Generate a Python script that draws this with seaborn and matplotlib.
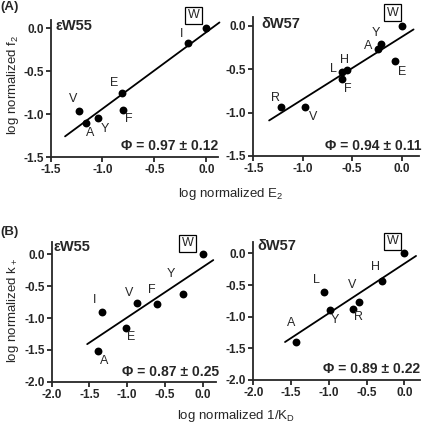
import numpy as np
import pandas as pd
import matplotlib
matplotlib.use("Agg")
import matplotlib.pyplot as plt
import seaborn as sns

# ---- data ----
# (A) left: eW55, log normalized E2 vs log normalized f2
a1_names = ["W", "I", "E", "F", "V", "A", "Y"]
a1_x = [0.0, -0.18, -0.81, -0.80, -1.23, -1.16, -1.04]
a1_y = [0.0, -0.17, -0.75, -0.95, -0.97, -1.10, -1.05]
a1_line_x = [-1.36, 0.125]
a1_line_y = [-1.26, 0.065]

# (A) right: dW57
a2_names = ["W", "Y", "A", "E", "H", "L", "F", "R", "V"]
a2_x = [0.0, -0.21, -0.24, -0.07, -0.55, -0.60, -0.60, -1.22, -0.98]
a2_y = [0.0, -0.21, -0.26, -0.40, -0.51, -0.53, -0.61, -0.94, -0.93]
a2_line_x = [-1.34, 0.12]
a2_line_y = [-1.09, -0.04]

# (B) left: eW55, log normalized 1/KD vs log normalized k+
b1_names = ["W", "Y", "F", "V", "I", "E", "A"]
b1_x = [0.0, -0.26, -0.61, -0.87, -1.34, -1.02, -1.39]
b1_y = [0.0, -0.63, -0.78, -0.77, -0.90, -1.15, -1.52]
b1_line_x = [-1.53, 0.14]
b1_line_y = [-1.41, -0.09]

# (B) right: dW57
b2_names = ["W", "H", "L", "V", "R", "Y", "A"]
b2_x = [0.0, -0.29, -1.06, -0.60, -0.68, -0.98, -1.43]
b2_y = [0.0, -0.44, -0.61, -0.77, -0.88, -0.90, -1.40]
b2_line_x = [-1.58, 0.155]
b2_line_y = [-1.40, -0.04]

phi_texts = ["\u03a6 = 0.97 \u00b1 0.12", "\u03a6 = 0.94 \u00b1 0.11",
             "\u03a6 = 0.87 \u00b1 0.25", "\u03a6 = 0.89 \u00b1 0.22"]
panel_names = ["\u03b5W55", "\u03b4W57", "\u03b5W55", "\u03b4W57"]

# label offsets (pixels) from each point
a1_off = {"W": (-13, 13), "I": (-6, 9), "E": (-8, 10), "F": (6, -9),
          "V": (-5, 12), "A": (4, -10), "Y": (7, -11)}
a2_off = {"W": (-9, 13), "Y": (-5, 11), "A": (-10, 3), "E": (7, -11),
          "H": (-3, 10), "L": (-9, 3), "F": (5, -10), "R": (-5, 9), "V": (8, -10)}
b1_off = {"W": (-15, 11), "I": (-7, 12), "V": (-8, 10), "F": (-5, 14),
          "Y": (-12, 20), "E": (5, -9), "A": (6, -10)}
b2_off = {"W": (-12, 12), "L": (-8, 12), "V": (-7, 17), "R": (6, -8),
          "Y": (5, -10), "A": (-5, 19), "H": (-7, 14)}

sns.set_style("ticks")
plt.rcParams["font.family"] = ["Liberation Sans", "DejaVu Sans"]
plt.rcParams["mathtext.fontset"] = "custom"
plt.rcParams["mathtext.rm"] = "Liberation Sans"
plt.rcParams["mathtext.it"] = "Liberation Sans"

W, H = 422, 426
fig = plt.figure(figsize=(W / 100, H / 100), dpi=100)


def rect(left, right, bottom, top):
    return [left / W, 1 - bottom / H, (right - left) / W, (bottom - top) / H]


panels = [
    (rect(50.5, 217.9, 157, 20.3), (-1.5, 0.11), (-1.5, 0.09), [-1.5, -1.0, -0.5, 0.0], [-1.5, -1.0, -0.5, 0.0],
     a1_names, a1_x, a1_y, a1_line_x, a1_line_y, a1_off, (0.027, 0.958), (1.0, 0.083)),
    (rect(253.3, 418.5, 156, 17.3), (-1.5, 0.17), (-1.5, 0.1), [-1.5, -1.0, -0.5, 0.0], [-1.5, -1.0, -0.5, 0.0],
     a2_names, a2_x, a2_y, a2_line_x, a2_line_y, a2_off, (0.051, 0.952), (1.02, 0.072)),
    (rect(51.7, 216.3, 381.7, 241.6), (-2.0, 0.18), (-2.0, 0.2), [-2.0, -1.5, -1.0, -0.5, 0.0], [-2.0, -1.5, -1.0, -0.5, 0.0],
     b1_names, b1_x, b1_y, b1_line_x, b1_line_y, b1_off, (0.01, 0.964), (1.02, 0.071)),
    (rect(253.3, 420.2, 380, 242), (-2.0, 0.21), (-2.0, 0.18), [-2.0, -1.5, -1.0, -0.5, 0.0], [-2.0, -1.5, -1.0, -0.5, 0.0],
     b2_names, b2_x, b2_y, b2_line_x, b2_line_y, b2_off, (0.024, 0.971), (1.0, 0.078)),
]

for i, (r, xl, yl, xt, yt, names, xs, ys, lx, ly, offs, name_pos, phi_pos) in enumerate(panels):
    ax = fig.add_axes(r)
    df = pd.DataFrame({"x": xs, "y": ys, "name": names})
    line_df = pd.DataFrame({"x": lx, "y": ly})
    sns.lineplot(data=line_df, x="x", y="y", ax=ax, color="black", lw=1.3, clip_on=False)
    sns.scatterplot(data=df, x="x", y="y", ax=ax, color="black", s=32, edgecolor="black",
                    linewidth=0, zorder=3, clip_on=False)
    ax.set_xlim(*xl)
    ax.set_ylim(*yl)
    ax.set_xticks(xt)
    ax.set_yticks(yt)
    ax.set_xticklabels(["%.1f" % v for v in xt])
    ax.set_yticklabels(["%.1f" % v for v in yt])
    ax.set_xlabel("")
    ax.set_ylabel("")
    sns.despine(ax=ax)
    for sp in ["left", "bottom"]:
        ax.spines[sp].set_linewidth(1.3)
    ax.tick_params(length=3.5, width=1.3, labelsize=8.5, pad=1.5)
    for lab in ax.get_xticklabels() + ax.get_yticklabels():
        lab.set_fontweight("bold")
    for n, x, y in zip(names, xs, ys):
        dx, dy = offs[n]
        if n == "W":
            ax.annotate(n, (x, y), xytext=(dx, dy), textcoords="offset pixels",
                        ha="center", va="center", fontsize=9,
                        bbox=dict(boxstyle="square,pad=0.2", fc="white", ec="black", lw=0.9),
                        annotation_clip=False)
        else:
            ax.annotate(n, (x, y), xytext=(dx, dy), textcoords="offset pixels",
                        ha="center", va="center", fontsize=9, annotation_clip=False)
    ax.text(name_pos[0], name_pos[1], panel_names[i], transform=ax.transAxes,
            ha="left", va="center", fontsize=10.5, fontweight="bold")
    ax.text(phi_pos[0], phi_pos[1], phi_texts[i], transform=ax.transAxes,
            ha="right", va="center", fontsize=10, fontweight="bold")

fig.text(0 / W, 1 - 7 / H, "(A)", ha="left", va="center", fontsize=9.5, fontweight="bold")
fig.text(0 / W, 1 - 231.7 / H, "(B)", ha="left", va="center", fontsize=9.5, fontweight="bold")
fig.text(13.3 / W, 1 - 85 / H, "log normalized f$_2$", rotation=90, ha="center", va="center", fontsize=9.5)
fig.text(13.3 / W, 1 - 310 / H, "log normalized k$_+$", rotation=90, ha="center", va="center", fontsize=9.5)
fig.text(230.8 / W, 1 - 194 / H, "log normalized E$_2$", ha="center", va="center", fontsize=9.5)
fig.text(236.3 / W, 1 - 416 / H, "log normalized 1/K$_\\mathrm{D}$", ha="center", va="center", fontsize=9.5)

fig.savefig("out.png", dpi=100)
